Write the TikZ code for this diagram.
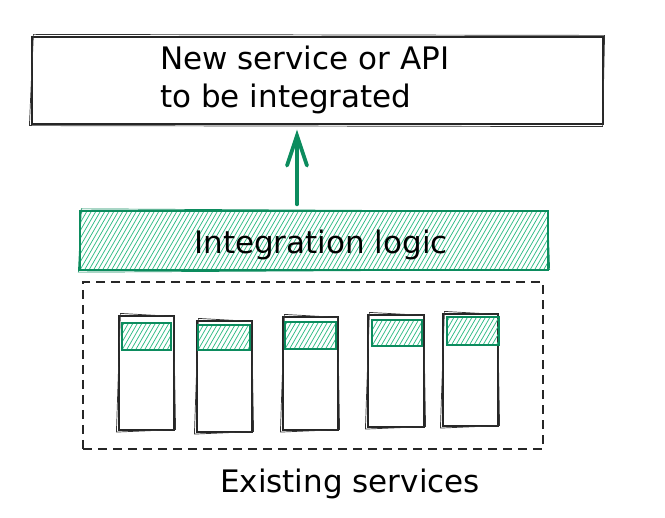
\documentclass[tikz,border=0pt]{standalone}
\usepackage{fontspec}
\setmainfont{DejaVu Sans}
\usetikzlibrary{calc,arrows.meta}
\definecolor{eg}{HTML}{0C8C5E}
\definecolor{eh}{HTML}{30BC86}
\tikzset{
  x=1pt, y=-1pt,
  hachure/.style={path picture={
    \foreach \i in {-20,...,112}{
      \draw[eh,line width=0.75pt] ($(path picture bounding box.south west)+(\i*4.5,0)$) -- ++(60:80pt);
    }}},
  bbox/.style={draw=black!85, line width=1.2pt, inner sep=0pt},
  gbox/.style={draw=eg, line width=1.3pt, inner sep=0pt, hachure},
  sk/.style={black!80, line width=0.7pt},
  skg/.style={eg, line width=0.7pt},
  lbl/.style={font=\fontsize{31}{38}\selectfont, inner sep=0pt},
  arr/.style={eg, line width=3.8pt, line cap=round, line join=round,
    -{Straight Barb[length=30pt,width=20pt,line cap=round]}},
  dashbox/.style={draw=black!85, line width=1.2pt, dash pattern=on 9pt off 6pt, inner sep=0pt}
}
\begin{document}
\begin{tikzpicture}
\useasboundingbox (0,0) rectangle (665,518);
% top box
\node[bbox, minimum width=571pt, minimum height=87pt] (top) at (317.5,80.5) {};
\draw[sk] ($(top.north west)+(2,-2)$) -- ($(top.north east)+(1,-1)$) -- ($(top.south east)+(-1,2)$) -- ($(top.south west)+(-2,1)$) -- cycle;
\node[lbl, anchor=west, align=left] (toptext) at (160,80) {New service or API\\to be integrated};
% integration logic
\node[gbox, minimum width=468pt, minimum height=59pt] (logic) at (314,240.5) {};
\draw[skg] ($(logic.north west)+(2,-1.5)$) -- ($(logic.north east)+(-1,1)$) -- ($(logic.south east)+(1,-1)$) -- ($(logic.south west)+(-1,1.5)$) -- cycle;
\node[lbl] (logictext) at (321,245) {Integration logic};
% arrow
\draw[arr] ($(logic.north)+(-17,-6)$) -- ($(top.south)+(-20.5,5)$);
% existing services
\node[dashbox, minimum width=460pt, minimum height=167pt] (existing) at (313,365.5) {};
\node[bbox, minimum width=55pt, minimum height=114pt] (s1) at (146.5,373) {};
\node[bbox, minimum width=55pt, minimum height=111pt] (s2) at (224.5,376.5) {};
\node[bbox, minimum width=55pt, minimum height=113pt] (s3) at (310.5,373.5) {};
\node[bbox, minimum width=56pt, minimum height=112pt] (s4) at (396,371) {};
\node[bbox, minimum width=55pt, minimum height=112pt] (s5) at (470.5,370) {};
\foreach \n in {s1,s2,s3,s4,s5}{
  \draw[sk] ($(\n.north west)+(2,-2)$) -- ($(\n.north east)+(-1,1)$) -- ($(\n.south east)+(1,-1)$) -- ($(\n.south west)+(-2,1.5)$) -- cycle;
}
\node[gbox, minimum width=49pt, minimum height=27pt] (g1) at (146.5,336.5) {};
\node[gbox, minimum width=52pt, minimum height=25pt] (g2) at (224,337.5) {};
\node[gbox, minimum width=51pt, minimum height=27pt] (g3) at (310.5,335.5) {};
\node[gbox, minimum width=50pt, minimum height=26pt] (g4) at (397,333) {};
\node[gbox, minimum width=52pt, minimum height=28pt] (g5) at (473,331) {};
\node[lbl] (existingtext) at (350,484) {Existing services};
\end{tikzpicture}
\end{document}
